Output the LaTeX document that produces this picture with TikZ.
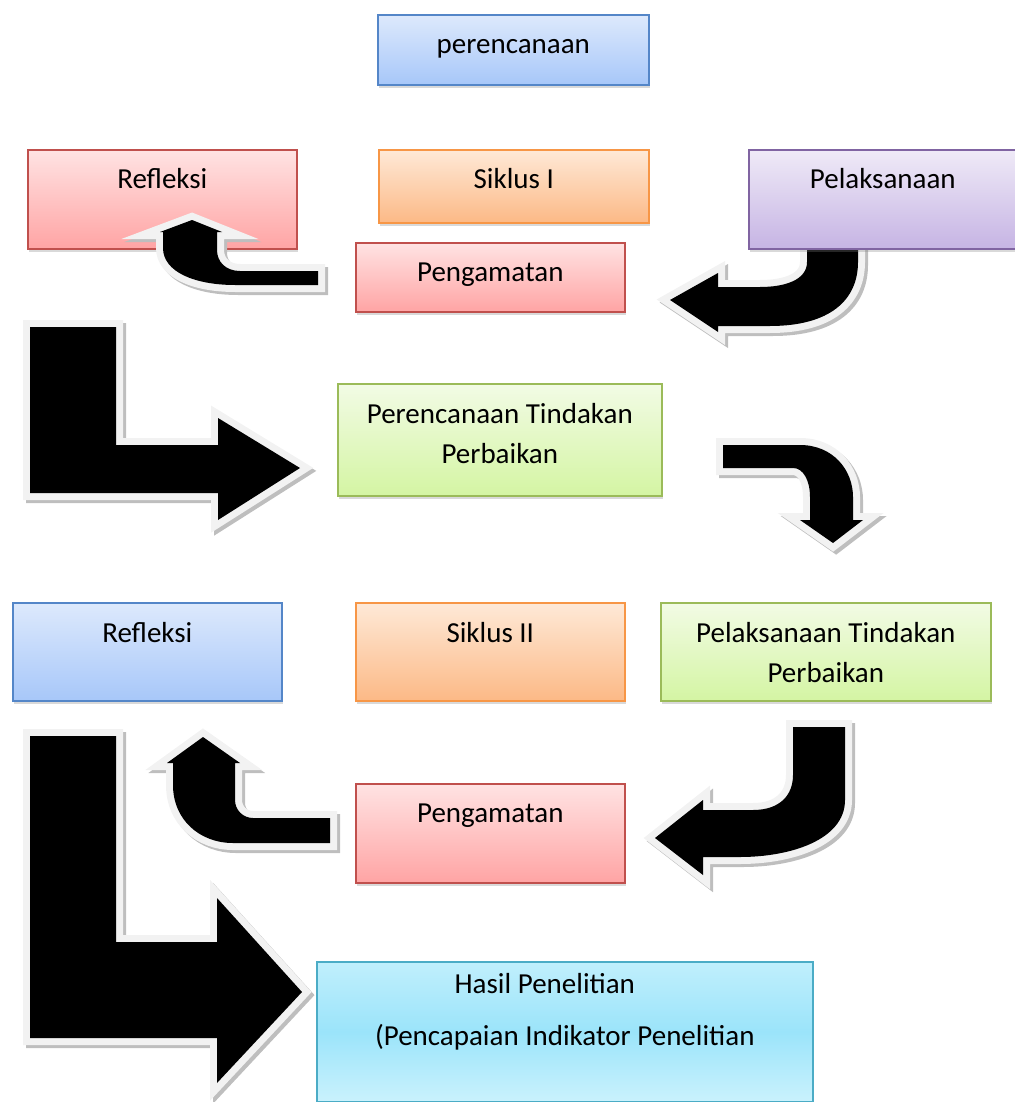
\documentclass[tikz,border=0pt]{standalone}
\usepackage{fontspec}
\setmainfont{Carlito}
\usetikzlibrary{shadows}

\definecolor{blueT}{RGB}{221,233,252}
\definecolor{blueB}{RGB}{167,199,249}
\definecolor{blueL}{RGB}{84,134,200}
\definecolor{redT}{RGB}{255,227,227}
\definecolor{redB}{RGB}{255,164,164}
\definecolor{redL}{RGB}{192,80,77}
\definecolor{orT}{RGB}{254,233,215}
\definecolor{orB}{RGB}{252,185,134}
\definecolor{orL}{RGB}{247,150,70}
\definecolor{puT}{RGB}{239,234,247}
\definecolor{puB}{RGB}{198,180,228}
\definecolor{puL}{RGB}{128,100,162}
\definecolor{grT}{RGB}{242,251,229}
\definecolor{grB}{RGB}{212,245,163}
\definecolor{grL}{RGB}{155,187,89}
\definecolor{cyT}{RGB}{192,239,252}
\definecolor{cyM}{RGB}{155,228,250}
\definecolor{cyB}{RGB}{202,242,253}
\definecolor{cyL}{RGB}{75,172,198}
\definecolor{rim}{RGB}{242,242,242}
\definecolor{rimshadow}{RGB}{190,190,190}

\tikzset{
  box/.style={draw, line width=1.2pt, inner sep=0pt, anchor=north west, align=center,
    font=\fontsize{21.75}{29.6}\selectfont,
    drop shadow={shadow xshift=1pt, shadow yshift=-2.5pt, opacity=0.3}},
  bluebox/.style={box, draw=blueL, top color=blueT, bottom color=blueB},
  redbox/.style={box, draw=redL, top color=redT, bottom color=redB},
  orangebox/.style={box, draw=orL, top color=orT, bottom color=orB},
  purplebox/.style={box, draw=puL, top color=puT, bottom color=puB},
  greenbox/.style={box, draw=grL, top color=grT, bottom color=grB},
  cyanbox/.style={box, draw=cyL, top color=cyT, bottom color=cyB, middle color=cyM},
  blockarrow/.style={fill=black, line join=miter,
    preaction={draw=rimshadow, line width=10.5pt, transform canvas={shift={(2.25pt,-2.25pt)}}},
    preaction={draw=rim, line width=10.5pt}}
}

\begin{document}
\begin{tikzpicture}[x=0.75pt,y=0.75pt]
  \useasboundingbox (0,0) rectangle (1014,-1102);
  % pelaksanaan -> pengamatan (under the box)
  \fill[blockarrow] (807,-240) -- (807,-262) .. controls (807,-280) and (785,-287) .. (760,-287) -- (718,-287) -- (718,-273) -- (670,-300) -- (718,-332) -- (718,-326) -- (770,-326) .. controls (830,-326) and (858,-300) .. (858,-262) -- (858,-240) -- cycle;

  % siklus I
  \node[bluebox, minimum width=203.25pt, text height=29.25pt, text depth=23.25pt] (plan) at (377,-14) {perencanaan};
  \node[redbox, minimum width=201.75pt, text height=29.25pt, text depth=45pt] (refleksiA) at (27,-149) {Refleksi};
  \node[orangebox, minimum width=202.5pt, text height=29.25pt, text depth=25.5pt] (siklusA) at (378,-149) {Siklus I};
  \node[purplebox, minimum width=201pt, text height=29.25pt, text depth=45pt] (laksanaA) at (748,-149) {Pelaksanaan};
  \node[redbox, minimum width=201.75pt, text height=29.25pt, text depth=22.5pt] (amatA) at (355,-242) {Pengamatan};
  \node[greenbox, minimum width=243pt, text height=59.6pt, text depth=24.4pt] (rencanaB) at (337,-383) {Perencanaan Tindakan\\Perbaikan};

  % siklus II
  \node[bluebox, minimum width=201.75pt, text height=30pt, text depth=43.5pt] (refleksiB) at (12,-602) {Refleksi};
  \node[orangebox, minimum width=201.75pt, text height=30pt, text depth=43.5pt] (siklusB) at (355,-602) {Siklus II};
  \node[greenbox, minimum width=247.5pt, text height=59.6pt, text depth=13.9pt] (laksanaB) at (660,-602) {Pelaksanaan Tindakan\\Perbaikan};
  \node[redbox, minimum width=201.75pt, text height=29.25pt, text depth=45pt] (amatB) at (355,-783) {Pengamatan};
  \node[cyanbox, minimum width=372pt, text height=63pt, text depth=42pt] (hasil) at (316,-961) {Hasil Penelitian\hspace*{30pt}\\[9.4pt](Pencapaian Indikator Penelitian};

  % block arrows
  \fill[blockarrow] (318,-271) -- (240,-271) .. controls (226,-271) and (217,-262) .. (217,-250) -- (217,-232) -- (222,-232) -- (192,-220) -- (160,-232) -- (163,-232) -- (163,-248) .. controls (163,-272) and (195,-285) .. (235,-285) -- (318,-285) -- cycle;
  \fill[blockarrow] (30,-327) -- (116,-327) -- (116,-445) -- (218,-445) -- (218,-418) -- (300,-468) -- (218,-520) -- (218,-493) -- (30,-493) -- cycle;
  \fill[blockarrow] (723,-445) -- (800,-445) .. controls (833,-445) and (853,-470) .. (853,-497) -- (853,-520) -- (863,-520) -- (833,-543) -- (800,-520) -- (810,-520) -- (810,-497) .. controls (810,-480) and (803,-468) .. (793,-468) -- (723,-468) -- cycle;
  \fill[blockarrow] (793,-727) -- (845,-727) -- (845,-800) .. controls (845,-840) and (790,-857) .. (740,-857) -- (703,-857) -- (703,-875) -- (655,-838) -- (703,-800) -- (703,-810) -- (753,-810) .. controls (780,-810) and (793,-795) .. (793,-775) -- cycle;
  \fill[blockarrow] (330,-818) -- (253,-818) .. controls (243,-818) and (235,-810) .. (235,-800) -- (235,-763) -- (240,-763) -- (203,-737) -- (167,-763) -- (173,-763) -- (173,-785) .. controls (173,-820) and (200,-843) .. (233,-843) -- (330,-843) -- cycle;
  \fill[blockarrow] (30,-736) -- (116,-736) -- (116,-942) -- (217,-942) -- (217,-898) -- (302,-992) -- (217,-1083) -- (217,-1038) -- (30,-1038) -- cycle;
\end{tikzpicture}
\end{document}
